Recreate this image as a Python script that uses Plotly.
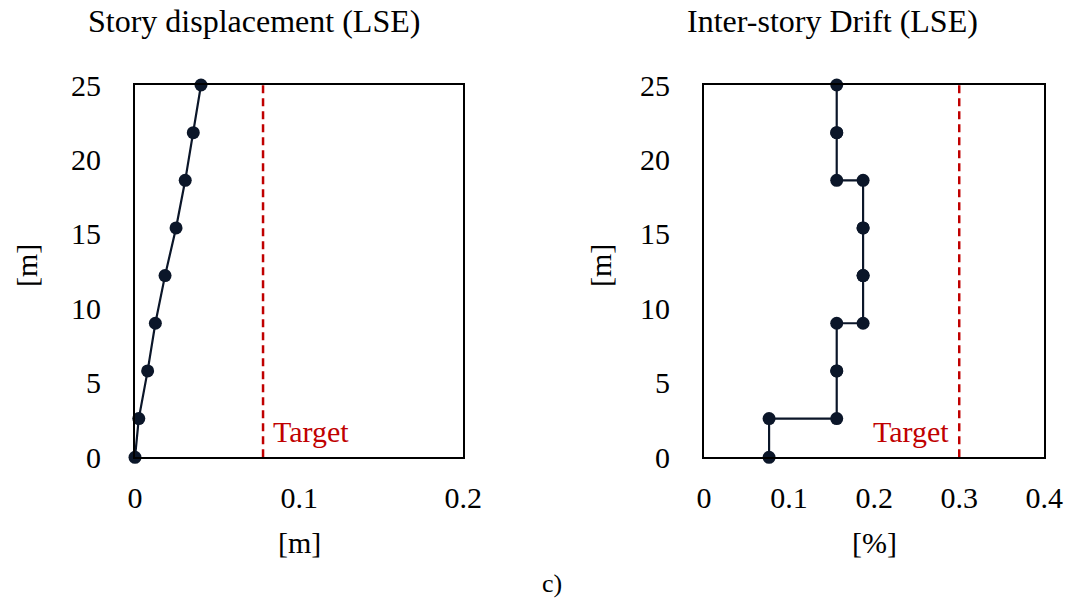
import plotly.graph_objects as go

# ---- data ----
levels = [0, 2.6, 5.8, 9.0, 12.2, 15.4, 18.6, 21.8, 25.0]          # [m]
displacement = [0, 0.0023, 0.0077, 0.0124, 0.0183, 0.025, 0.0306, 0.0355, 0.0402]  # [m]
story_drift = [0.0765, 0.156, 0.156, 0.187, 0.187, 0.187, 0.156, 0.156]  # [%] per story
disp_target = 0.078
drift_target = 0.3
disp_ticks = [0, 0.1, 0.2]
disp_ticktext = ["0", "0.1", "0.2"]
drift_ticks = [0, 0.1, 0.2, 0.3, 0.4]
drift_ticktext = ["0", "0.1", "0.2", "0.3", "0.4"]
height_ticks = [0, 5, 10, 15, 20, 25]

# step-shaped drift profile built from per-story values
drift_x, drift_y = [], []
for i, d in enumerate(story_drift):
    drift_x += [d, d]
    drift_y += [levels[i], levels[i + 1]]

W, H = 1070, 601
FONT = "Liberation Serif, Times New Roman, serif"
NAVY = "#0b1629"
RED = "#c00000"

def px(x):
    return x / W

def py(y):
    return 1 - y / H

fig = go.Figure()
fig.add_trace(go.Scatter(x=displacement, y=levels, mode="lines+markers",
                         line=dict(color=NAVY, width=2.2),
                         marker=dict(color=NAVY, size=13),
                         cliponaxis=False, xaxis="x", yaxis="y", showlegend=False))
fig.add_trace(go.Scatter(x=[disp_target, disp_target], y=[0, 25], mode="lines",
                         line=dict(color=RED, width=2.5, dash="8px,5px"),
                         xaxis="x", yaxis="y", showlegend=False))
fig.add_trace(go.Scatter(x=drift_x, y=drift_y, mode="lines+markers",
                         line=dict(color=NAVY, width=2.2),
                         marker=dict(color=NAVY, size=13),
                         cliponaxis=False, xaxis="x2", yaxis="y2", showlegend=False))
fig.add_trace(go.Scatter(x=[drift_target, drift_target], y=[0, 25], mode="lines",
                         line=dict(color=RED, width=2.5, dash="8px,5px"),
                         xaxis="x2", yaxis="y2", showlegend=False))

ydom = [py(457.3), py(85)]
axis_common = dict(showline=True, mirror=True, linecolor="black", linewidth=2,
                   showgrid=False, zeroline=False, ticks="", automargin=False,
                   tickfont=dict(family=FONT, size=30, color="black"))

fig.update_layout(
    template="none",
    width=W, height=H,
    autosize=False,
    margin=dict(l=0, r=0, t=0, b=0, pad=0),
    paper_bgcolor="white", plot_bgcolor="white",
    font=dict(family=FONT, color="black"),
    xaxis=dict(domain=[px(135), px(463.3)], range=[0, 0.2], tickvals=disp_ticks,
               ticktext=disp_ticktext, anchor="y", ticklabelstandoff=13, **axis_common),
    yaxis=dict(domain=ydom, range=[0, 25], tickvals=height_ticks, anchor="x",
               ticklabelstandoff=26, **axis_common),
    xaxis2=dict(domain=[px(704), px(1044.3)], range=[0, 0.4], tickvals=drift_ticks,
                ticktext=drift_ticktext, anchor="y2", ticklabelstandoff=13, **axis_common),
    yaxis2=dict(domain=ydom, range=[0, 25], tickvals=height_ticks, anchor="x2",
                ticklabelstandoff=26, **axis_common),
)

def ann(text, x, y, size=30, color="black", angle=0):
    fig.add_annotation(text=text, x=x, y=y, xref="paper", yref="paper",
                       xanchor="center", yanchor="middle",
                       showarrow=False, textangle=angle,
                       font=dict(family=FONT, size=size, color=color))

ann("Story displacement (LSE)", px(253.5), py(21), size=32)
ann("Inter-story Drift (LSE)", px(832.5), py(21), size=32)
ann("[m]", px(299), py(542))
ann("[%]", px(874), py(542))
ann("[m]", px(26), py(266), angle=-90)
ann("[m]", px(600), py(266), angle=-90)
ann("c)", px(552), py(583), size=26)

fig.add_annotation(text="Target", x=disp_target, y=1.7, xref="x", yref="y",
                   xanchor="left", yanchor="middle", xshift=8, showarrow=False,
                   font=dict(family=FONT, size=30, color=RED))
fig.add_annotation(text="Target", x=drift_target, y=1.7, xref="x2", yref="y2",
                   xanchor="right", yanchor="middle", xshift=-8, showarrow=False,
                   font=dict(family=FONT, size=30, color=RED))

fig.write_html("out.html")
